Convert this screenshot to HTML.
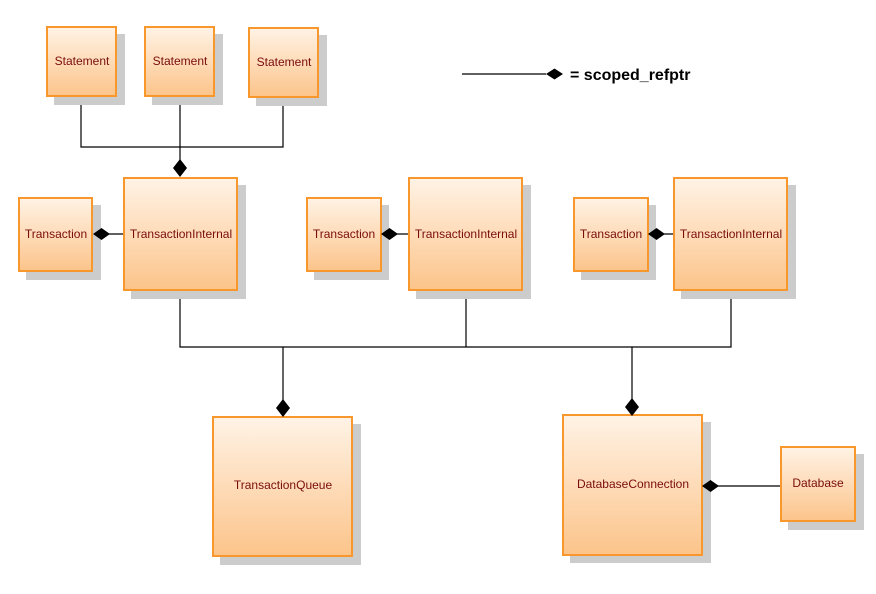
<!DOCTYPE html>
<html><head><meta charset="utf-8"><style>
html,body{margin:0;padding:0;background:#fff;}
svg{display:block;}
text{font-family:"Liberation Sans",sans-serif;font-size:12px;fill:#7a0c0c;}
</style></head><body>
<svg width="876" height="594" viewBox="0 0 876 594" xmlns="http://www.w3.org/2000/svg">
<defs>
<linearGradient id="g" x1="0" y1="0" x2="0" y2="1">
<stop offset="0" stop-color="#fff3e6"/>
<stop offset="1" stop-color="#fcc48a"/>
</linearGradient>
</defs>
<g stroke="#000" stroke-width="1.2" fill="none">
<path d="M81 97V147H283V98M180 97V160"/>
<path d="M180 291V347H731V291M466 291V347M283 347V400M632 347V399"/>
<path d="M108 234H123M396 234H408M664 234H673M718 486H780"/>
<path d="M462 74H546"/>
</g>
<g>
<g fill="#cccccc">
<rect x="54" y="34" width="71" height="71"/>
<rect x="152" y="34" width="71" height="71"/>
<rect x="256" y="35" width="71" height="71"/>
<rect x="26" y="205" width="75" height="75"/>
<rect x="131" y="185" width="115" height="114"/>
<rect x="314" y="205" width="75" height="75"/>
<rect x="416" y="185" width="115" height="114"/>
<rect x="581" y="205" width="75" height="75"/>
<rect x="681" y="185" width="115" height="114"/>
<rect x="220" y="424" width="141" height="141"/>
<rect x="570" y="422" width="141" height="141"/>
<rect x="788" y="454" width="76" height="76"/>
</g>
<g fill="url(#g)" stroke="#f7972c" stroke-width="2">
<rect x="47" y="27" width="69" height="69"/>
<rect x="145" y="27" width="69" height="69"/>
<rect x="249" y="28" width="69" height="69"/>
<rect x="19" y="198" width="73" height="73"/>
<rect x="124" y="178" width="113" height="112"/>
<rect x="307" y="198" width="74" height="73"/>
<rect x="409" y="178" width="113" height="112"/>
<rect x="574" y="198" width="74" height="73"/>
<rect x="674" y="178" width="113" height="112"/>
<rect x="213" y="417" width="139" height="139"/>
<rect x="563" y="415" width="139" height="140"/>
<rect x="781" y="447" width="74" height="74"/>
</g>
</g>
<g fill="#000">
<path d="M180 159L187 168L180 177L173 168Z"/>
<path d="M93 234L101.5 228L110 234L101.5 240Z"/>
<path d="M381 234L389.5 228L398 234L389.5 240Z"/>
<path d="M648 234L656.5 228L665 234L656.5 240Z"/>
<path d="M283 399L290 408L283 417L276 408Z"/>
<path d="M632 398L639 407L632 416L625 407Z"/>
<path d="M702 486L710.5 480L719 486L710.5 492Z"/>
<path d="M546 74L554.5 68.5L563 74L554.5 79.5Z"/>
</g>
<text x="570" y="80" style="font-size:16px;font-weight:bold;fill:#000">= scoped_refptr</text>
<g text-anchor="middle">
<text x="82" y="65">Statement</text>
<text x="180" y="65">Statement</text>
<text x="284" y="66">Statement</text>
<text x="56" y="238">Transaction</text>
<text x="181" y="238">TransactionInternal</text>
<text x="344" y="238">Transaction</text>
<text x="466" y="238">TransactionInternal</text>
<text x="611" y="238">Transaction</text>
<text x="731" y="238">TransactionInternal</text>
<text x="283" y="489">TransactionQueue</text>
<text x="633" y="488">DatabaseConnection</text>
<text x="818" y="487">Database</text>
</g>
</svg>
</body></html>
